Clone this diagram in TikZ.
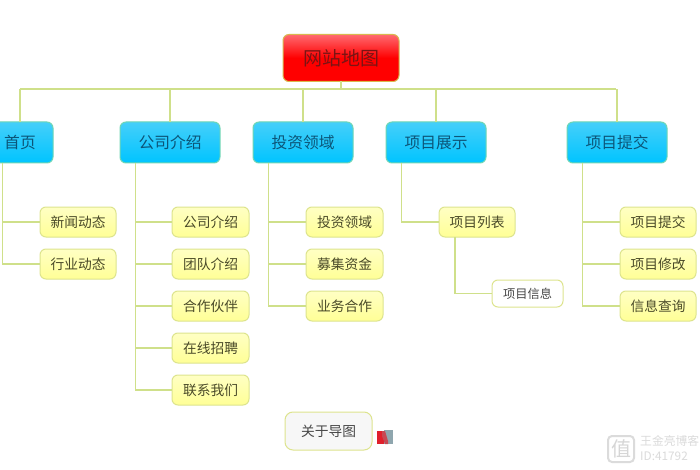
\documentclass[tikz,border=0pt]{standalone}
\usepackage{fontspec}
\setmainfont{Noto Sans CJK SC}
\definecolor{linec}{HTML}{CFE08A}
\definecolor{rootbd}{HTML}{D9B84E}
\definecolor{bluebd}{HTML}{6FD6B4}
\definecolor{yellbd}{HTML}{DDE48E}
\definecolor{roottop}{HTML}{FF6A70}
\definecolor{roottxt}{HTML}{7A1414}
\definecolor{bluetop}{HTML}{45CFFA}
\definecolor{bluebot}{HTML}{00C4FF}
\definecolor{bluetxt}{HTML}{0C5578}
\definecolor{yelltop}{HTML}{FFFFC4}
\definecolor{yellbot}{HTML}{FFFF96}
\definecolor{yelltxt}{HTML}{4A4A28}
\definecolor{icongrey}{HTML}{8FA6AE}
\definecolor{iconred}{HTML}{E0202C}
\tikzset{
 x=1pt,y=-1pt,
 box/.style={rounded corners=6pt,inner sep=0pt,outer sep=0pt,line width=1pt,anchor=north west,align=center},
 rootbox/.style={box,draw=rootbd,top color=roottop,bottom color=red,middle color=red,text=roottxt,font=\fontsize{19}{20}\selectfont,minimum width=116pt,minimum height=47pt},
 bluebox/.style={box,draw=bluebd,top color=bluetop,bottom color=bluebot,text=bluetxt,font=\fontsize{15.75}{18}\selectfont,minimum width=100pt,minimum height=41pt},
 itembox/.style={box,draw=yellbd,top color=yelltop,bottom color=yellbot,text=yelltxt,font=\fontsize{13.75}{16}\selectfont,minimum width=77pt,minimum height=30pt},
 whitebox/.style={box,draw=yellbd,fill=white,text=black!72,font=\fontsize{12.25}{14}\selectfont,minimum width=71pt,minimum height=27pt},
 aboutbox/.style={box,draw=yellbd,fill=black!3,text=black!72,font=\fontsize{13.75}{16}\selectfont,minimum width=87pt,minimum height=38pt,rounded corners=8pt},
 conn/.style={draw=linec,line width=1.3pt},
 wm/.style={inner sep=0pt,anchor=west,text=black!14,font=\fontsize{11.8}{14}\selectfont}
}
\begin{document}
\begin{tikzpicture}
\useasboundingbox (0,0) rectangle (700,470);
\clip (0,0) rectangle (700,470);
\fill[white] (0,0) rectangle (700,470);
% nodes
\node[rootbox] (root) at (283,34.5) {网站地图};
\node[bluebox,minimum width=66pt] (b1) at (-13,122) {首页};
\node[bluebox] (b2) at (120,122) {公司介绍};
\node[bluebox] (b3) at (253,122) {投资领域};
\node[bluebox] (b4) at (386,122) {项目展示};
\node[bluebox] (b5) at (567,122) {项目提交};
\coordinate (bus) at (341,89);
\coordinate (busL) at (20,89);
\coordinate (busR) at (616,89);
\node[itembox,minimum width=76pt] (a1) at (40,207) {新闻动态};
\node[itembox,minimum width=76pt] (a2) at (40,249) {行业动态};
\node[itembox] (c1) at (172,207) {公司介绍};
\node[itembox] (c2) at (172,249) {团队介绍};
\node[itembox] (c3) at (172,291) {合作伙伴};
\node[itembox] (c4) at (172,333) {在线招聘};
\node[itembox] (c5) at (172,375) {联系我们};
\node[itembox] (d1) at (306,207) {投资领域};
\node[itembox] (d2) at (306,249) {募集资金};
\node[itembox] (d3) at (306,291) {业务合作};
\node[itembox,minimum width=76pt] (e1) at (439,207) {项目列表};
\node[whitebox] (e2) at (492,280) {项目信息};
\node[itembox,minimum width=76pt] (f1) at (620,207) {项目提交};
\node[itembox,minimum width=76pt] (f2) at (620,249) {项目修改};
\node[itembox,minimum width=76pt] (f3) at (620,291) {信息查询};
\node[aboutbox] (about) at (285,412) {关于导图};
% connectors
\draw[conn] (root.south) -- (bus);
\draw[conn] (busL) -- (busR);
\foreach \n in {b1,b2,b3,b4,b5} \draw[conn] (\n.north) -- (\n.north |- bus);
\foreach \n/\m in {b1/a1,b1/a2,b2/c1,b2/c2,b2/c3,b2/c4,b2/c5,b3/d1,b3/d2,b3/d3,b4/e1,b5/f1,b5/f2,b5/f3}
  \draw[conn] ([xshift=15.5pt]\n.south west) |- (\m.west);
\draw[conn] ([xshift=16pt]e1.south west) |- (e2.west);
% icon
\fill[iconred] (377,431) rectangle (384,444);
\fill[icongrey] (384,430) rectangle (392.5,444);
\fill[iconred!70!icongrey] (382,431) -- (385,431) -- (388,441) -- (388,444) -- (385,444) -- (382,436) -- cycle;
% watermark
\draw[black!14,line width=2pt,rounded corners=4pt] (608,436) rectangle (634,462);
\node[inner sep=0pt,text=black!16,font=\fontsize{20}{20}\selectfont] (wlogo) at (621,449) {值};
\node[wm] (w1) at (640,441) {王金亮博客};
\node[wm] (w2) at (640,456) {ID:41792};
\end{tikzpicture}
\end{document}
